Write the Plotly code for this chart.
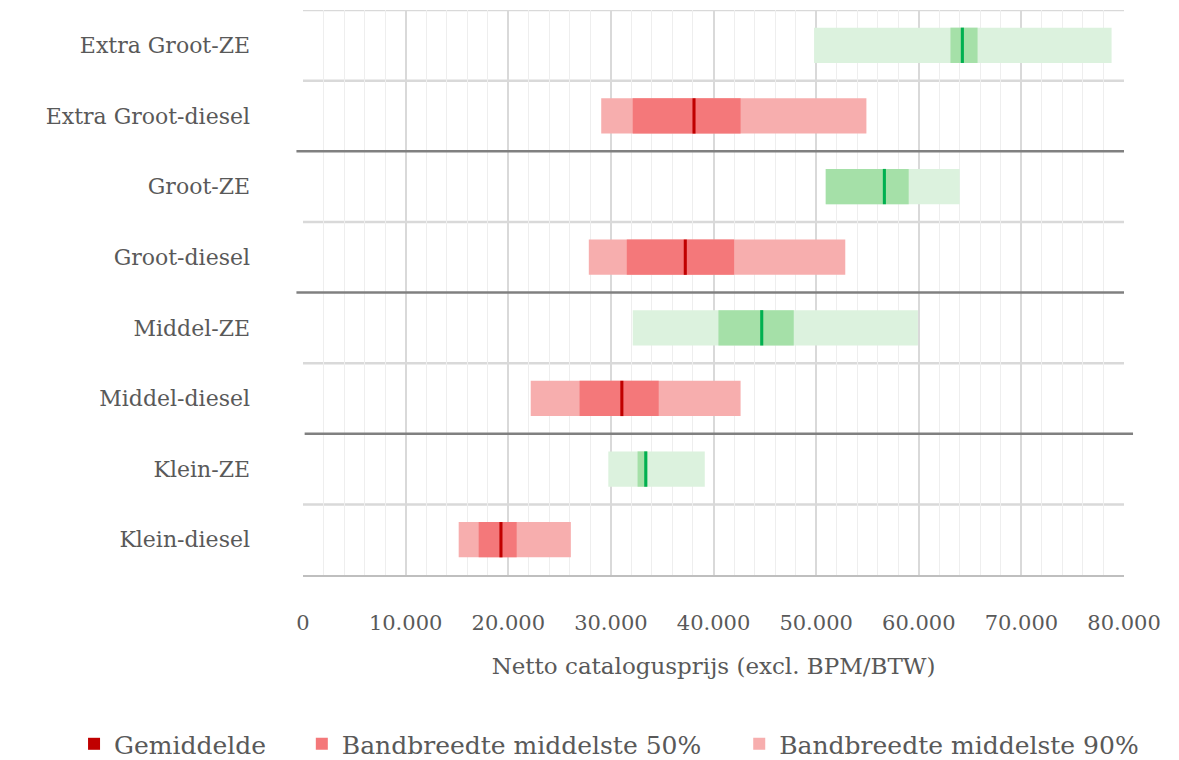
import plotly.graph_objects as go

categories = ["Klein-diesel", "Klein-ZE", "Middel-diesel", "Middel-ZE",
              "Groot-diesel", "Groot-ZE", "Extra Groot-diesel", "Extra Groot-ZE"]
low90 =  [15170, 29750, 22190, 32130, 27850, 50900, 29060, 49800]
low50 =  [17120, 32600, 26950, 40480, 31550, 50950, 32130, 63090]
mean =   [19290, 33400, 31070, 44700, 37250, 56650, 38100, 64250]
high50 = [20820, 33550, 34660, 47820, 42010, 59020, 42640, 65730]
high90 = [26100, 39150, 42640, 59920, 52840, 63990, 54900, 78790]

x_ticks = [0, 10000, 20000, 30000, 40000, 50000, 60000, 70000, 80000]

RED_MEAN, RED50, RED90 = "#c00000", "#f4787a", "#f7aeae"
GRN_MEAN, GRN50, GRN90 = "#00b050", "#a5e0a8", "#dcf2de"
TXT = "#595959"
FONT = "DejaVu Serif"
MEAN_W = 300  # line thickness in data units

diesel = [i for i, c in enumerate(categories) if c.endswith("diesel")]
ze = [i for i, c in enumerate(categories) if c.endswith("ZE")]

fig = go.Figure()

def add_group(idx, c90, c50, cm, show):
    ys = [categories[i] for i in idx]
    fig.add_trace(go.Bar(
        y=ys, x=[high90[i] - low90[i] for i in idx], base=[low90[i] for i in idx],
        orientation="h", marker=dict(color=c90, line=dict(width=0)), width=0.5,
        name="Bandbreedte middelste 90%", showlegend=show, legend="legend3",
        hoverinfo="skip"))
    fig.add_trace(go.Bar(
        y=ys, x=[high50[i] - low50[i] for i in idx], base=[low50[i] for i in idx],
        orientation="h", marker=dict(color=c50, line=dict(width=0)), width=0.5,
        name="Bandbreedte middelste 50%", showlegend=show, legend="legend2",
        hoverinfo="skip"))
    fig.add_trace(go.Bar(
        y=ys, x=[MEAN_W] * len(idx), base=[mean[i] - MEAN_W / 2 for i in idx],
        orientation="h", marker=dict(color=cm, line=dict(width=0)), width=0.5,
        name="Gemiddelde", showlegend=show, legend="legend",
        hoverinfo="skip"))

add_group(diesel, RED90, RED50, RED_MEAN, True)
add_group(ze, GRN90, GRN50, GRN_MEAN, False)

shapes = []
for yv in [0.5, 2.5, 4.5, 6.5, 7.5]:
    shapes.append(dict(type="line", xref="paper", x0=0, x1=1, yref="y", y0=yv, y1=yv,
                       line=dict(color="#d9d9d9", width=2.5), layer="below"))
for yv, x0, x1 in [(5.5, -0.008, 1.0), (3.5, -0.008, 1.0), (1.5, 0.002, 1.011)]:
    shapes.append(dict(type="line", xref="paper", x0=x0, x1=x1, yref="y", y0=yv, y1=yv,
                       line=dict(color="#808080", width=2.5), layer="above"))

def leg(xpos):
    return dict(orientation="h", xref="container", yref="container",
                x=xpos, xanchor="left", y=0.021, yanchor="middle",
                font=dict(size=25, color=TXT), itemwidth=30,
                bgcolor="rgba(0,0,0,0)")

fig.update_layout(
    width=1179, height=760,
    margin=dict(l=303, r=55, t=10, b=185),
    paper_bgcolor="white", plot_bgcolor="white",
    barmode="overlay",
    separators=",.",
    font=dict(family=FONT, color=TXT, size=21),
    shapes=shapes,
    showlegend=True,
    legend=leg(0.0628),
    legend2=leg(0.256),
    legend3=leg(0.627),
    xaxis=dict(range=[0, 80000], tickvals=x_ticks, tickformat=",d",
               showgrid=True, gridcolor="#d9d9d9", gridwidth=1.5,
               minor=dict(dtick=2000, showgrid=True, gridcolor="#eeeeee", gridwidth=1),
               showline=True, linecolor="#bfbfbf", linewidth=2,
               zeroline=False, ticks="", ticklabelstandoff=28,
               tickfont=dict(size=21, color=TXT),
               title=dict(text="Netto catalogusprijs (excl. BPM/BTW)",
                          font=dict(size=23, color=TXT), standoff=24)),
    yaxis=dict(categoryorder="array", categoryarray=categories,
               range=[-0.5, 7.5], showgrid=False, zeroline=False, showline=False,
               ticks="", ticklabelstandoff=52,
               tickfont=dict(size=22, color=TXT)),
)

fig.write_html("out.html", config={"displayModeBar": False},
               post_script="document.body.style.margin='0';")
